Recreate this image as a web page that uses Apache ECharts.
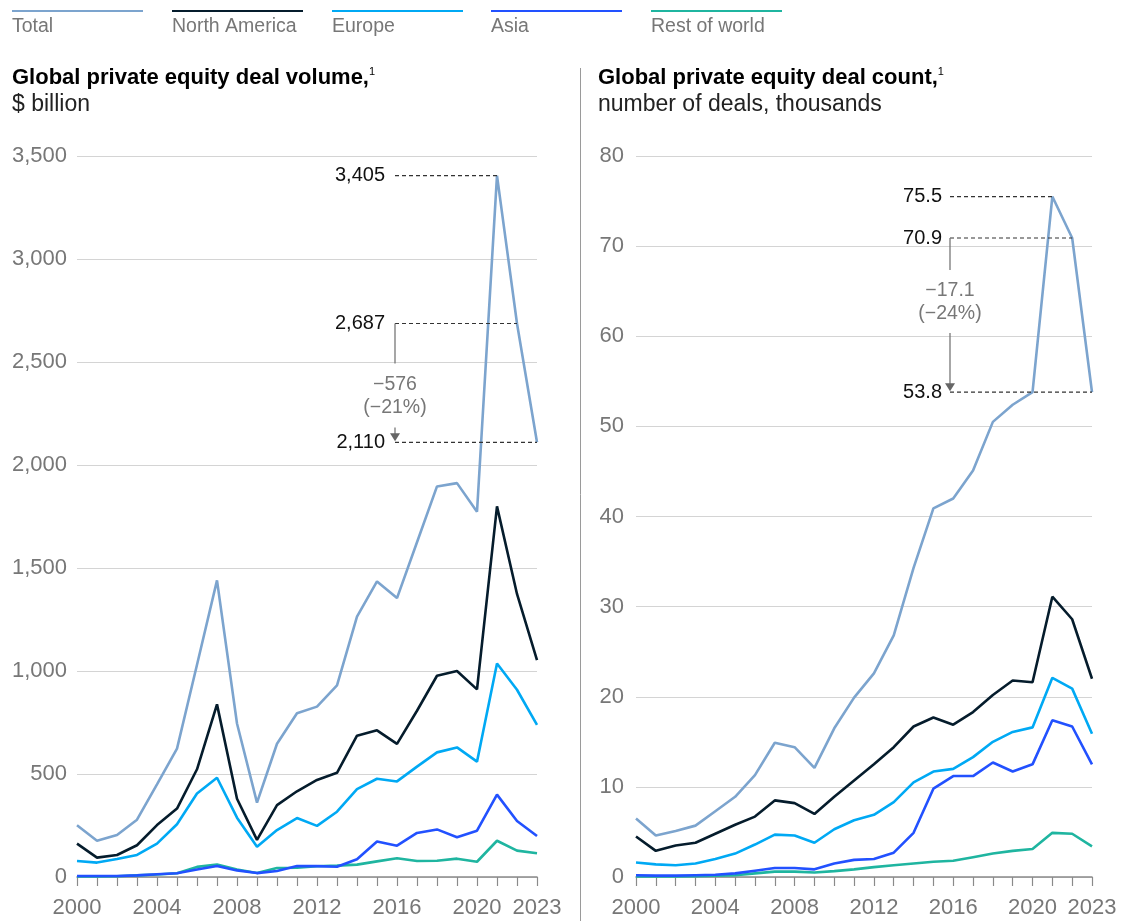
<!DOCTYPE html>
<html>
<head>
<meta charset="utf-8">
<script src="https://cdn.jsdelivr.net/npm/echarts@6/dist/echarts.min.js"></script>
<style>
html,body{margin:0;padding:0;background:#fff;}
#chart{width:1129px;height:921px;}
</style>
</head>
<body>
<div id="chart"></div>
<script>
// ---------- data ----------
const years = ['2000','2001','2002','2003','2004','2005','2006','2007','2008','2009','2010','2011','2012','2013','2014','2015','2016','2017','2018','2019','2020','2021','2022','2023'];
const seriesNames = ['Total','North America','Europe','Asia','Rest of world'];

// Global private equity deal volume, $ billion
const volTotal  = [251,176,204,278,450,623,1030,1440,745,361,647,795,827,930,1264,1435,1354,1625,1896,1912,1773,3405,2687,2110];
const volNA     = [162,94,107,154,252,332,523,838,380,180,349,416,471,506,686,712,646,807,977,1000,911,1799,1374,1053];
const volEurope = [78,70,87,107,162,256,405,482,288,147,228,286,248,317,427,477,464,536,605,629,560,1036,909,738];
const volAsia   = [5,5,5,8,13,18,36,53,32,19,29,53,53,50,86,172,152,214,231,193,225,400,272,199];
const volRoW    = [3,3,4,8,12,18,49,61,36,19,44,45,52,55,60,76,91,78,79,89,74,176,128,115];

// Global private equity deal count, thousands
const cntTotal  = [6.5,4.6,5.1,5.7,7.3,8.9,11.3,14.9,14.4,12.1,16.5,19.9,22.6,26.8,34.3,40.9,42.0,45.1,50.5,52.4,53.8,75.5,70.9,53.8];
const cntNA     = [4.5,2.9,3.5,3.8,4.8,5.8,6.7,8.5,8.2,7.0,8.9,10.7,12.5,14.4,16.7,17.7,16.9,18.3,20.2,21.8,21.6,31.1,28.6,22.0];
const cntEurope = [1.6,1.4,1.3,1.5,2.0,2.6,3.6,4.7,4.6,3.8,5.3,6.3,6.9,8.3,10.5,11.7,12.0,13.3,15.0,16.1,16.6,22.1,20.9,15.9];
const cntAsia   = [0.2,0.15,0.15,0.2,0.25,0.4,0.7,1.0,1.0,0.85,1.5,1.9,2.0,2.7,4.9,9.8,11.2,11.2,12.7,11.7,12.5,17.4,16.7,12.5];
const cntRoW    = [0.05,0.05,0.07,0.1,0.15,0.2,0.4,0.6,0.6,0.5,0.65,0.85,1.1,1.3,1.5,1.7,1.8,2.2,2.6,2.9,3.1,4.9,4.8,3.4];

const yTicksVol = [0,500,1000,1500,2000,2500,3000,3500];
const yTicksCnt = [0,10,20,30,40,50,60,70,80];
const xLabelShown = ['2000','2004','2008','2012','2016','2020','2023'];

const titles = ['Global private equity deal volume,', 'Global private equity deal count,'];
const subtitles = ['$ billion', 'number of deals, thousands'];
const volChange = ['\u2212576', '(\u221221%)'];
const cntChange = ['\u221217.1', '(\u221224%)'];

// ---------- styles ----------
const colors = ['#7ca4ce','#051c2c','#00a9f4','#2251ff','#1fb5a0'];
const FONT = '"Liberation Sans", Arial, sans-serif';

const chart = echarts.init(document.getElementById('chart'));

function xAxisCfg(gi){
  return {
    type:'category', gridIndex:gi, data:years, boundaryGap:false,
    axisLine:{show:true, lineStyle:{color:'#8a8a8a', width:1.5}},
    axisTick:{show:true, interval:0, length:9, lineStyle:{color:'#8a8a8a', width:1.2}},
    axisLabel:{interval:(i,v)=>xLabelShown.indexOf(v)>=0, color:'#777', fontSize:22, fontFamily:FONT, margin:20},
    splitLine:{show:false}
  };
}
function yAxisCfg(gi, ticks, fmt, margin){
  return {
    type:'value', gridIndex:gi, min:ticks[0], max:ticks[ticks.length-1], interval:ticks[1]-ticks[0],
    axisLine:{show:false}, axisTick:{show:false},
    axisLabel:{color:'#777', fontSize:22, fontFamily:FONT, margin:margin, formatter:fmt, padding:[3,0,0,0]},
    splitLine:{show:true, lineStyle:{color:'#d4d4d4', width:1}}
  };
}
function mkSeries(gi, arrs){
  // draw order: Total, NA, Europe, Rest of world, Asia (Asia on top)
  const order = [0,1,2,4,3];
  return order.map(k=>({
    name:seriesNames[k], type:'line', xAxisIndex:gi, yAxisIndex:gi,
    data:arrs[k], symbol:'none', smooth:false,
    lineStyle:{color:colors[k], width:2.6}, itemStyle:{color:colors[k]},
    emphasis:{disabled:true}, silent:true, z:2
  }));
}

chart.setOption({
  animation:false,
  grid:[
    {left:77, right:1129-537, top:156, bottom:921-877},
    {left:636, right:1129-1092, top:156, bottom:921-877}
  ],
  xAxis:[xAxisCfg(0), xAxisCfg(1)],
  yAxis:[
    yAxisCfg(0, yTicksVol, v=>v.toLocaleString('en-US'), 10),
    yAxisCfg(1, yTicksCnt, v=>String(v), 12)
  ],
  series:[].concat(
    mkSeries(0,[volTotal,volNA,volEurope,volAsia,volRoW]),
    mkSeries(1,[cntTotal,cntNA,cntEurope,cntAsia,cntRoW])
  )
});

// ---------- annotations / legend / titles ----------
const px = (gi, i, v) => chart.convertToPixel({gridIndex:gi}, [i, v]);
const g = [];

// legend
const legX = [12,172,332,491,651];
seriesNames.forEach((n,k)=>{
  g.push({type:'line', shape:{x1:legX[k], y1:11, x2:legX[k]+131, y2:11}, style:{stroke:colors[k], lineWidth:2}});
  g.push({type:'text', x:legX[k], y:27, style:{text:n, fill:'#777', font:'19.5px '+FONT, textVerticalAlign:'middle', textAlign:'left'}});
});

// titles
const titleX = [12, 598];
titles.forEach((t,k)=>{
  g.push({type:'text', x:titleX[k], y:78, style:{
    text:'{b|'+t+'}{s|1}', textVerticalAlign:'middle',
    rich:{b:{font:'bold 22px '+FONT, fill:'#000'}, s:{font:'11px '+FONT, fill:'#000', verticalAlign:'top', padding:[0,0,12,0]}}
  }});
  g.push({type:'text', x:titleX[k], y:105, style:{text:subtitles[k], fill:'#222', font:'23px '+FONT, textVerticalAlign:'middle'}});
});

// divider
g.push({type:'line', shape:{x1:580.5, y1:68, x2:580.5, y2:921}, style:{stroke:'#9a9a9a', lineWidth:1}});

function valueLabel(xRight, y, txt){
  g.push({type:'text', x:xRight, y:y, z:10, style:{text:txt, fill:'#111', font:'20px '+FONT, textAlign:'right', textVerticalAlign:'middle'}});
}
function dashed(x1, x2, y){
  g.push({type:'line', z:10, shape:{x1:x1, y1:y, x2:x2, y2:y}, style:{stroke:'#333', lineWidth:1.2, lineDash:[4,3]}});
}
function arrowDown(x, yTop, yTip){
  g.push({type:'line', z:10, shape:{x1:x, y1:yTop, x2:x, y2:yTip-6}, style:{stroke:'#777', lineWidth:1.3}});
  g.push({type:'polygon', z:10, shape:{points:[[x-5,yTip-8],[x+5,yTip-8],[x,yTip]]}, style:{fill:'#666'}});
}

function annotate(gi, arr, labelRight, lineX, fmt, changeTxt, stemLen, textOff, arrowTopOff){
  const p21 = px(gi,21,arr[21]), p22 = px(gi,22,arr[22]), p23 = px(gi,23,arr[23]);
  valueLabel(labelRight, p21[1], fmt(arr[21]));
  dashed(lineX, p21[0], p21[1]);
  valueLabel(labelRight, p22[1], fmt(arr[22]));
  dashed(lineX, p22[0], p22[1]);
  valueLabel(labelRight, p23[1], fmt(arr[23]));
  dashed(lineX, p23[0], p23[1]);
  // stem
  g.push({type:'line', z:10, shape:{x1:lineX, y1:p22[1], x2:lineX, y2:p22[1]+stemLen}, style:{stroke:'#777', lineWidth:1.3}});
  g.push({type:'text', x:lineX, y:p22[1]+textOff, z:10, style:{text:changeTxt[0], fill:'#777', font:'19.5px '+FONT, textAlign:'center', textVerticalAlign:'middle'}});
  g.push({type:'text', x:lineX, y:p22[1]+textOff+23, z:10, style:{text:changeTxt[1], fill:'#777', font:'19.5px '+FONT, textAlign:'center', textVerticalAlign:'middle'}});
  arrowDown(lineX, p22[1]+arrowTopOff, p23[1]-1);
}

annotate(0, volTotal, 385, 395, v=>v.toLocaleString('en-US'), volChange, 40, 61, 104);
annotate(1, cntTotal, 942, 950, v=>v.toFixed(1), cntChange, 32, 53, 95);

chart.setOption({graphic:g});
</script>
</body>
</html>
